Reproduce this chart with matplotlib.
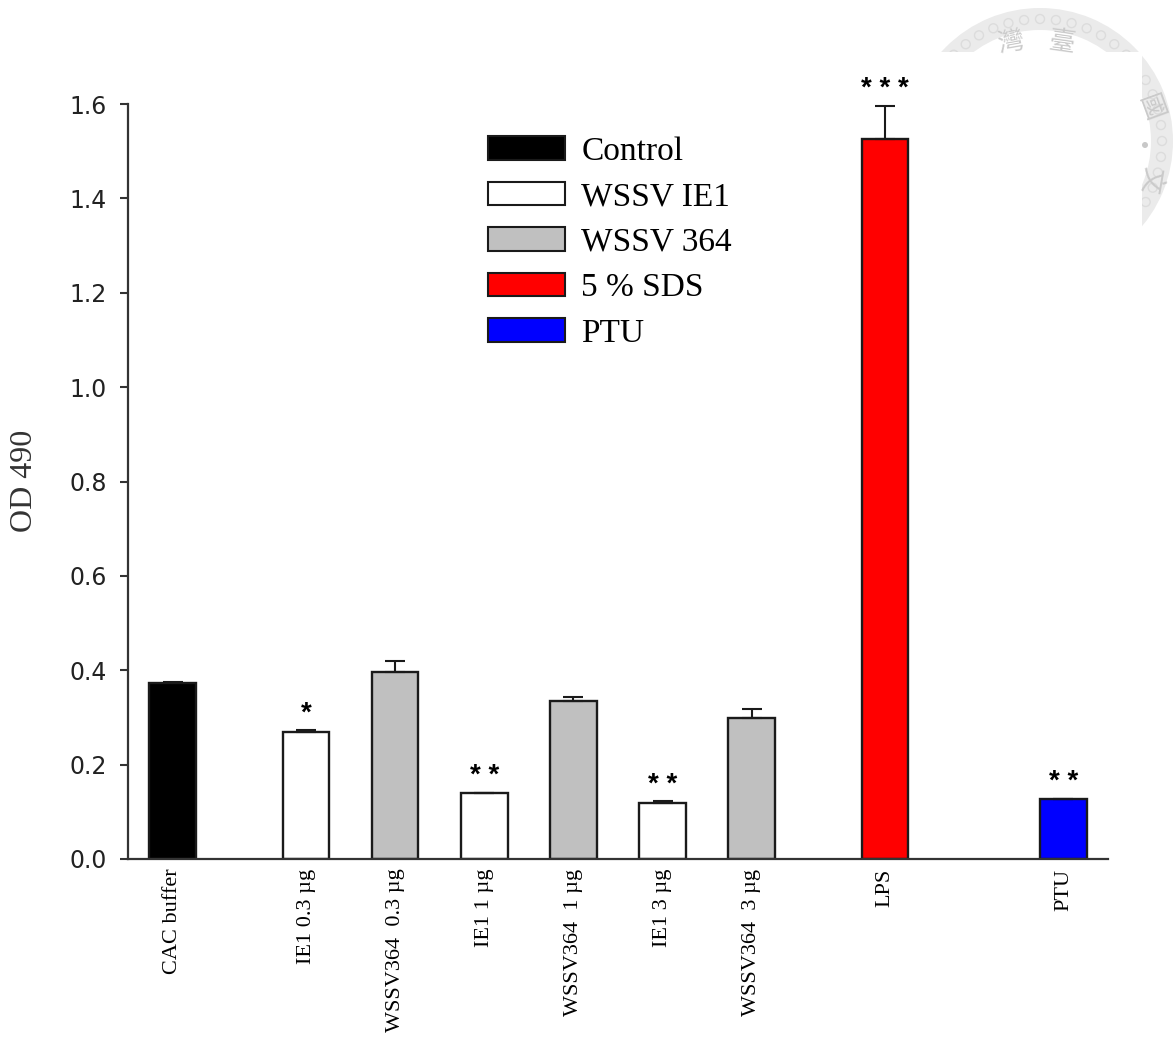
import numpy as np
import matplotlib
matplotlib.use("Agg")
import matplotlib.pyplot as plt
from matplotlib.patches import Patch, Wedge, Circle, PathPatch
from matplotlib.path import Path

# OD490 readings per treatment (mean, upper error)
LABELS = [
    "CAC buffer",
    "IE1 0.3 µg",
    "WSSV364  0.3 µg",
    "IE1 1 µg",
    "WSSV364  1 µg",
    "IE1 3 µg",
    "WSSV364  3 µg",
    "LPS",
    "PTU",
]
GROUPS = ["Control", "WSSV IE1", "WSSV 364", "WSSV IE1", "WSSV 364",
          "WSSV IE1", "WSSV 364", "5 % SDS", "PTU"]
OD490 = [0.373, 0.269, 0.396, 0.140, 0.335, 0.119, 0.299, 1.526, 0.127]
OD490_ERR = [0.003, 0.004, 0.024, 0.0, 0.008, 0.003, 0.019, 0.070, 0.0]
SIGNIF = ["", "*", "", "**", "", "**", "", "***", "**"]

LEGEND_ORDER = ["Control", "WSSV IE1", "WSSV 364", "5 % SDS", "PTU"]
GROUP_COLORS = {
    "Control": "#000000",
    "WSSV IE1": "#ffffff",
    "WSSV 364": "#c0c0c0",
    "5 % SDS": "#ff0000",
    "PTU": "#0000ff",
}

# slot of each bar along the axis (gaps between control, doses, LPS, PTU)
SLOT_X = [0, 1.5, 2.5, 3.5, 4.5, 5.5, 6.5, 8, 10]

SERIF = ["Liberation Serif", "DejaVu Serif"]
SANS = ["DejaVu Sans"]

W, H = 1175, 1037
fig = plt.figure(figsize=(W / 100, H / 100), dpi=100)
fig.patch.set_facecolor("white")

# faint university seal in the top-right corner, peeking out around the chart
px_to_fig = (matplotlib.transforms.Affine2D().scale(1 / 100, -1 / 100).translate(0, H / 100)
             + fig.dpi_scale_trans)
seal_clip = PathPatch(
    Path([(890, 0), (W, 0), (W, 237), (1142, 237), (1142, 52), (890, 52), (890, 0)]),
    transform=px_to_fig, visible=False,
)
fig.add_artist(seal_clip)
cx, cy, r = 10.40, (H - 141) / 100, 1.33
seal_parts = [Wedge((cx, cy), r, 0, 360, width=0.22, facecolor="#ebebeb",
                    edgecolor="none", transform=fig.dpi_scale_trans)]
for ang in np.arange(0, 360, 7.5):
    a = np.deg2rad(ang)
    seal_parts.append(Circle((cx + (r - 0.11) * np.cos(a), cy + (r - 0.11) * np.sin(a)),
                             0.045, facecolor="none", edgecolor="#dcdcdc", lw=1.0,
                             transform=fig.dpi_scale_trans))
seal_parts.append(Circle((cx + 1.05, cy - 0.04), 0.03, facecolor="#c8c8c8",
                         edgecolor="none", transform=fig.dpi_scale_trans))
for art in seal_parts:
    fig.add_artist(art)
    art.set_clip_path(seal_clip)
for ch, px, py, rot in [("灣", 1010, 42, 10), ("臺", 1062, 42, -8),
                        ("國", 1150, 108, -70), ("文", 1150, 180, -100)]:
    t = fig.text(px / W, 1 - py / H, ch, fontsize=19, color="#cacaca", rotation=rot,
                 ha="center", va="center",
                 family=["Noto Sans CJK TC", "DejaVu Sans"])
    t.set_clip_path(seal_clip)

ax = fig.add_axes([128 / W, 1 - 859 / H, (1108 - 128) / W, (859 - 104) / H])
ax.set_facecolor("white")

colors = [GROUP_COLORS[g] for g in GROUPS]
ax.bar(SLOT_X, OD490, width=0.52, color=colors, edgecolor="#1a1a1a",
       linewidth=1.7, zorder=2)
ax.errorbar(SLOT_X, OD490, yerr=[np.zeros(len(OD490)), OD490_ERR], fmt="none",
            ecolor="#1a1a1a", elinewidth=1.5, capsize=7, capthick=1.5, zorder=3)

for x, v, e, s in zip(SLOT_X, OD490, OD490_ERR, SIGNIF):
    if s:
        ax.annotate(" ".join(s), xy=(x, v + e), xytext=(0, 7),
                    textcoords="offset points", ha="center", va="baseline",
                    fontsize=20, fontweight="bold",
                    family=["Liberation Sans", "DejaVu Sans"], color="black")

ax.set_xlim(-0.5, 10.5)
ax.set_ylim(0, 1.6)
yticks = np.arange(0, 1.61, 0.2)
ax.set_yticks(yticks)
ax.set_yticklabels([f"{t:.1f}" for t in yticks],
                   fontsize=17, family=SANS, color="#222222")
ax.set_xticks(SLOT_X)
ax.set_xticklabels(LABELS, rotation=90, fontsize=16, family=SERIF, color="black")
ax.tick_params(axis="x", length=0, pad=7)
ax.tick_params(axis="y", direction="out", length=6, width=1.5, pad=9,
               color="#333333")

for side in ("top", "right"):
    ax.spines[side].set_visible(False)
for side in ("left", "bottom"):
    ax.spines[side].set_color("#333333")
    ax.spines[side].set_linewidth(1.6)

fig.text(25 / W, 1 - 481 / H, "OD 490", rotation=90, ha="center", va="center",
         fontsize=23, family=SERIF, color="#333333")

handles = [Patch(facecolor=GROUP_COLORS[g], edgecolor="#1a1a1a", linewidth=1.5)
           for g in LEGEND_ORDER]
ax.legend(handles, LEGEND_ORDER, loc="upper left",
          bbox_to_anchor=((488 - 128) / 980, (859 - 136) / 755),
          frameon=False, borderpad=0, borderaxespad=0,
          handlelength=2.3, handleheight=0.7, handletextpad=0.5,
          labelspacing=0.45, prop={"family": SERIF, "size": 24})

fig.savefig("out.png", dpi=100, facecolor="white")
